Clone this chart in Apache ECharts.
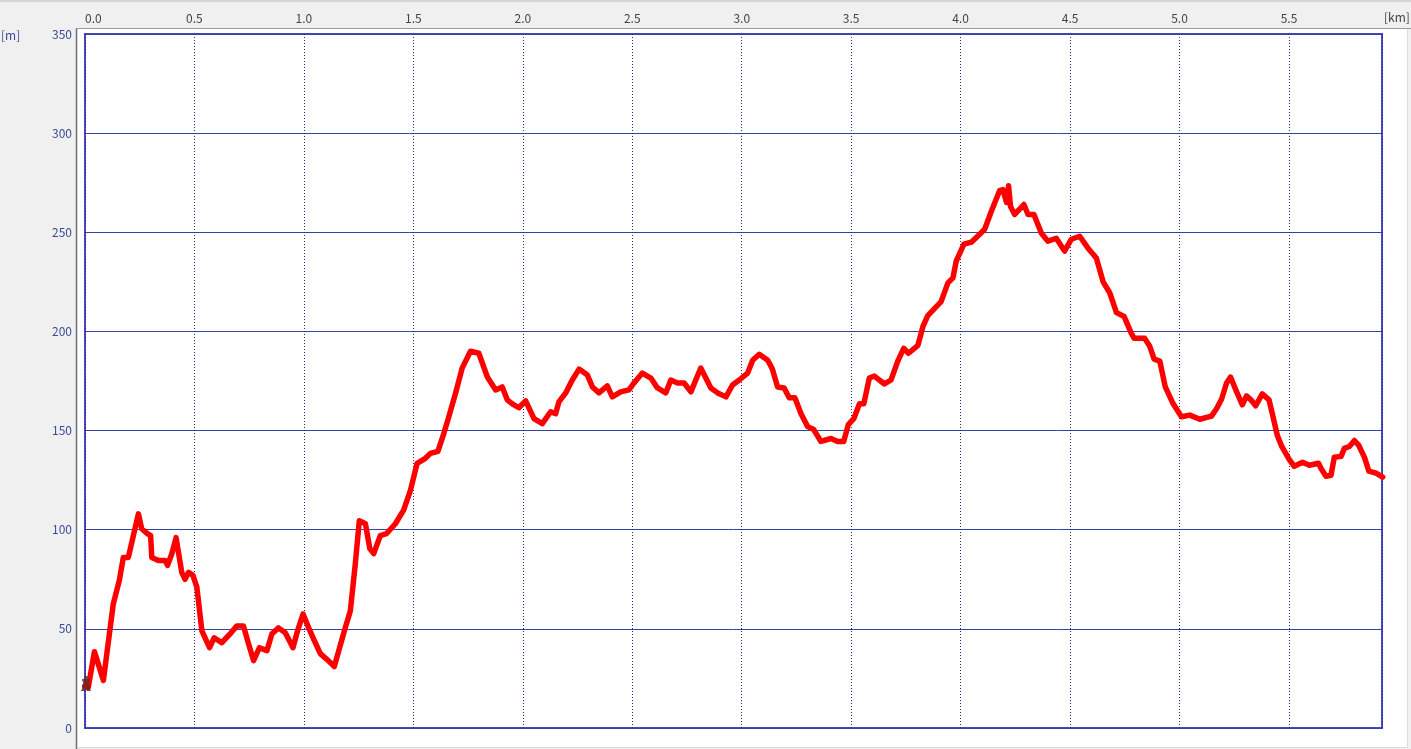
<!DOCTYPE html>
<html>
<head>
<meta charset="utf-8">
<script src="https://cdn.jsdelivr.net/npm/echarts@6/dist/echarts.min.js"></script>
<style>
html,body{margin:0;padding:0;background:#f0f0f0;}
#chart{width:1411px;height:749px;}
</style>
</head>
<body>
<div id="chart"></div>
<script>
// Distance along the route [km]
var distKm = [
0.000,0.015,0.043,0.084,0.129,0.157,0.175,0.198,0.244,0.259,0.285,0.300,0.305,0.335,0.366,0.377,0.397,0.416,0.442,0.457,
0.473,0.493,0.511,0.534,0.569,0.590,0.625,0.667,0.694,0.724,0.747,0.770,0.797,0.831,0.854,0.884,0.915,0.950,0.971,0.996,
1.022,1.044,1.075,1.106,1.139,1.163,1.189,1.212,1.235,1.253,1.281,1.301,1.319,1.349,1.377,1.418,1.456,1.487,1.517,1.555,
1.578,1.612,1.639,1.662,1.693,1.723,1.761,1.799,1.838,1.876,1.906,1.929,1.952,1.982,2.013,2.051,2.089,2.127,2.150,2.165,
2.196,2.226,2.257,2.295,2.318,2.348,2.386,2.409,2.447,2.485,2.508,2.546,2.585,2.615,2.653,2.676,2.707,2.737,2.768,2.790,
2.813,2.836,2.859,2.890,2.928,2.958,2.989,3.027,3.050,3.080,3.119,3.140,3.164,3.194,3.217,3.243,3.271,3.301,3.329,3.362,
3.408,3.438,3.466,3.487,3.512,3.538,3.558,3.583,3.606,3.652,3.682,3.713,3.740,3.762,3.805,3.828,3.850,3.911,3.942,3.965,
3.980,4.015,4.049,4.087,4.110,4.140,4.178,4.193,4.210,4.219,4.228,4.247,4.289,4.308,4.335,4.369,4.399,4.437,4.475,4.506,
4.544,4.582,4.620,4.651,4.681,4.712,4.747,4.780,4.793,4.841,4.864,4.884,4.910,4.935,4.971,5.009,5.047,5.093,5.146,5.169,
5.192,5.215,5.233,5.261,5.287,5.306,5.326,5.348,5.378,5.409,5.427,5.447,5.467,5.501,5.524,5.562,5.593,5.635,5.646,5.669,
5.692,5.707,5.738,5.753,5.776,5.799,5.819,5.845,5.865,5.898,5.928
];
// Elevation [m]
var elevM = [
21,20.5,38.5,24,62.5,74.5,86,86,108,100.5,98,97,86,84.5,84.5,82,88,96,78.5,75,
78.5,77,71,49,40.5,45.5,43,48,51.5,51.5,42.5,34,40.5,39,47.5,50.5,48,40.5,49,57.5,
50.5,45,37.5,34.5,31,40.5,50.5,59,83,104.5,103,90.5,88,97,98,103,110,120,133.5,136,
138.5,139.5,148.5,157,169,181.5,190,189,177,170.5,172,165.5,163.5,161.5,165,156,153.5,159.5,158.5,164.5,
169,175.5,181,178,172,169,172.5,167,169.5,170.5,174,179,176.5,171.5,169,175.5,174,174,169.5,175.5,
181.5,176.5,171.5,169,167,173,175.5,179,185.5,188.5,185.5,181,172,171.5,166.5,166.5,158.5,152,150.5,144.5,
146,144.5,144.5,153,156,163.5,163.5,176.5,177.5,173.5,175.5,185,191.5,189,193,202.5,208,215,224.5,227,
235.5,244,245,249,251.5,260.5,271,271.5,265,273.5,263,259,264,259,259,249.5,245.5,247,240.5,246.5,
248,242,237,225,219.5,209.5,207.5,199,196.5,196.5,192.5,186,185,172,163.5,157,157.8,155.7,157.3,161,
165.8,174,177,169.5,163,167.5,165.5,162.5,168.5,165.5,157,147.5,142,135.5,132,134,132.5,133.5,131,127,
127.5,136.5,137,141,142,145,142.5,136.5,129.5,128.5,126.5
];
// Axis settings
var xTicks = [0,0.5,1,1.5,2,2.5,3,3.5,4,4.5,5,5.5];
var yTicks = [0,50,100,150,200,250,300,350];
var xMax = 5.925;

var profile = distKm.map(function(d,i){ return [d, elevM[i]]; });
var startPoint = [[distKm[0] + 0.004, elevM[0] + 1.5]];

var chart = echarts.init(document.getElementById('chart'), null, {renderer:'canvas'});
var font = "'Noto Sans CJK JP', 'DejaVu Sans', sans-serif";
chart.setOption({
  animation: false,
  backgroundColor: '#f0f0f0',
  graphic: [
    {type:'rect', z:-10, silent:true, shape:{x:0,y:0,width:1411,height:2}, style:{fill:'#d4d4d4'}},
    {type:'rect', z:-10, silent:true, shape:{x:77,y:29,width:1330,height:718}, style:{fill:'#ffffff'}},
    {type:'line', z:-9, silent:true, shape:{x1:76.5,y1:28,x2:76.5,y2:749}, style:{stroke:'#6e6e6e', lineWidth:1.5}},
    {type:'line', z:-9, silent:true, shape:{x1:76,y1:28.5,x2:1411,y2:28.5}, style:{stroke:'#9a9a9a', lineWidth:1}},
    {type:'line', z:-9, silent:true, shape:{x1:1407.5,y1:29,x2:1407.5,y2:747}, style:{stroke:'#dcdcdc', lineWidth:1}},
    {type:'line', z:-9, silent:true, shape:{x1:77,y1:747.5,x2:1408,y2:747.5}, style:{stroke:'#dcdcdc', lineWidth:1}},
    {type:'text', silent:true, left:1, top:29, style:{text:'[m]', fill:'#3c4a98', font:"12px " + font}},
    {type:'text', silent:true, left:1384, top:11, style:{text:'[km]', fill:'#444444', font:"12px " + font}}
  ],
  grid: {
    left: 85, top: 34, width: 1297, height: 694,
    show: true, backgroundColor: 'transparent',
    borderColor: '#4848c4', borderWidth: 2
  },
  xAxis: {
    type: 'value', position: 'top', min: xTicks[0], max: xMax, interval: xTicks[1] - xTicks[0],
    axisLine: {show:false}, axisTick: {show:false},
    axisLabel: {
      color:'#444444', fontSize:12, fontFamily:font, margin:10,
      showMaxLabel:false, alignMinLabel:'left',
      formatter: function(v){ return xTicks.indexOf(Math.round(v*10)/10) >= 0 ? v.toFixed(1) : ''; }
    },
    splitLine: {show:true, lineStyle:{color:'#2a2a8a', width:1, type:[1,2]}}
  },
  yAxis: {
    type: 'value', min: yTicks[0], max: yTicks[yTicks.length-1], interval: yTicks[1] - yTicks[0],
    axisLine: {show:false}, axisTick: {show:false},
    axisLabel: {color:'#3c4a98', fontSize:12, fontFamily:font, margin:13},
    splitLine: {show:true, lineStyle:{color:'#3444a0', width:1, type:'solid'}}
  },
  series: [
    {
      type: 'line', data: profile, showSymbol: false, symbol: 'none',
      lineStyle: {color:'#ff0000', width:5.5, join:'round', cap:'round'},
      z: 2
    },
    {
      type: 'scatter', data: startPoint, z: 3,
      symbol: 'path://M3,0h3v3h-3zM1,3h7v2h-7zM2,5h5v3h-5zM1,8h3v5h-3zM5,8h3v5h-3zM0,13h4v1h-4zM5,13h4v1h-4z',
      symbolSize: [10, 15],
      itemStyle: {color:'#5a2a22'}
    }
  ]
});
</script>
</body>
</html>
